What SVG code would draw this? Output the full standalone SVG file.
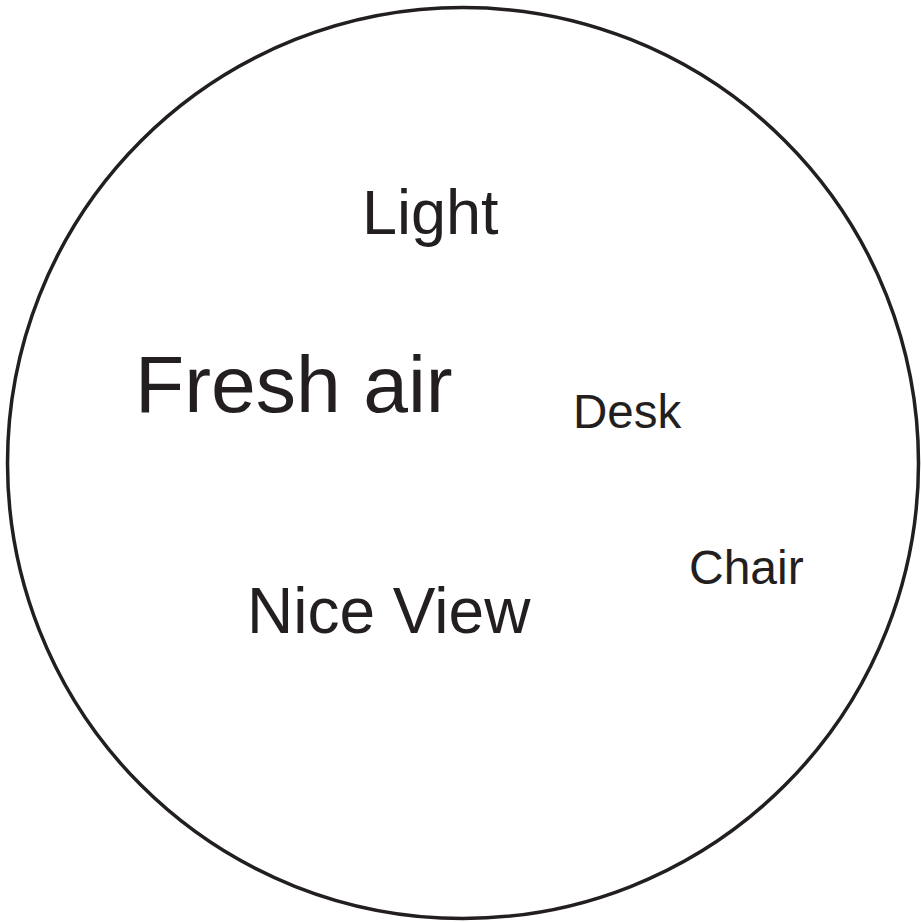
<svg xmlns="http://www.w3.org/2000/svg" width="921" height="922" viewBox="0 0 921 922">
<style>
text{font-family:"Liberation Sans",Arial,sans-serif;fill:#231f20}
.ring{fill:none;stroke:#231f20;stroke-width:3.5}
</style>
<rect width="921" height="922" fill="#fff"/>
<g id="boundary"><circle class="ring" cx="463" cy="463" r="455.5"/></g>
<g id="light"><text x="362" y="234" font-size="63">Light</text></g>
<g id="fresh-air"><text x="135" y="412" font-size="80.5">Fresh air</text></g>
<g id="desk"><text x="573" y="428" font-size="47.5">Desk</text></g>
<g id="chair"><text x="689" y="584" font-size="48">Chair</text></g>
<g id="nice-view"><text x="247" y="633" font-size="64">Nice View</text></g>
<g id="connectors"></g>
</svg>
